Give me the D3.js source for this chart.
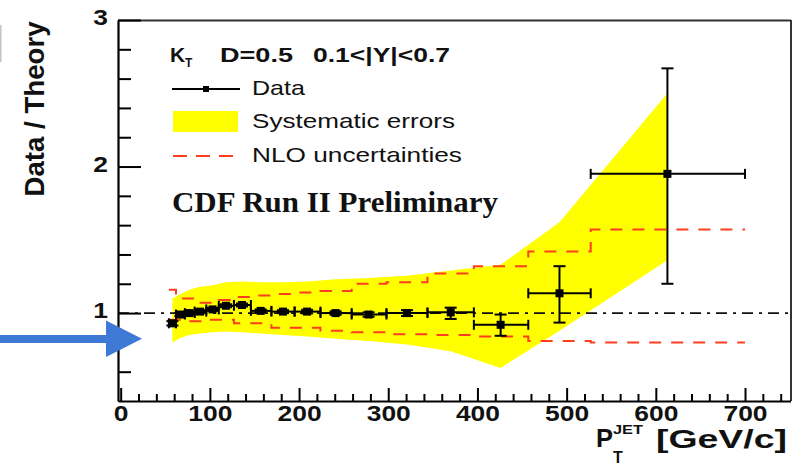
<!DOCTYPE html>
<html lang="en">
<head>
<meta charset="utf-8">
<style>
  body { margin: 0; background: #fff; }
  svg { display: block; font-family: "Liberation Sans", Arial, sans-serif; }
</style>
<script src="https://d3js.org/d3.v7.min.js"></script>
</head>
<body>
<svg width="804" height="469"></svg>
<script>

// bins in pT (GeV/c)
var binLo = [54, 62, 72, 83, 96, 110, 127, 146, 169, 195, 224, 259, 298, 344, 396, 457, 527];
var binHi = [62, 72, 83, 96, 110, 127, 146, 169, 195, 224, 259, 298, 344, 396, 457, 527, 700];
var ptCenter = [58, 67, 77, 89, 103, 118, 136, 157, 182, 209, 241, 278, 321, 370, 426, 492, 613];

// data / theory with stat errors
var ratio  = [0.93, 0.99, 1.00, 1.01, 1.025, 1.05, 1.055, 1.015, 1.01, 1.01, 1.00, 0.99, 1.00, 1.005, 0.92, 1.135, 1.95];
var statUp = [0.015, 0.01, 0.01, 0.01, 0.01, 0.01, 0.01, 0.01, 0.01, 0.012, 0.012, 0.015, 0.02, 0.032, 0.07, 0.185, 0.72];
var statDn = [0.015, 0.01, 0.01, 0.01, 0.01, 0.01, 0.01, 0.01, 0.01, 0.012, 0.012, 0.015, 0.02, 0.045, 0.075, 0.20, 0.75];

// systematic band (yellow)
var sysUp = [1.10, 1.13, 1.16, 1.18, 1.19, 1.21, 1.215, 1.21, 1.21, 1.215, 1.23, 1.24, 1.255, 1.29, 1.33, 1.62, 2.50];
var sysDn = [0.80, 0.83, 0.85, 0.86, 0.87, 0.875, 0.87, 0.86, 0.85, 0.84, 0.825, 0.81, 0.785, 0.74, 0.625, 0.88, 1.36];

// NLO uncertainties (red dashed steps)
var nloUp = [1.16, 1.10, 1.10, 1.07, 1.07, 1.09, 1.11, 1.12, 1.13, 1.14, 1.15, 1.20, 1.21, 1.27, 1.32, 1.42, 1.57];
var nloDn = [0.955, 0.955, 0.945, 0.945, 0.955, 0.955, 0.93, 0.93, 0.90, 0.90, 0.88, 0.87, 0.855, 0.85, 0.84, 0.81, 0.80];

var xMajor = [0, 100, 200, 300, 400, 500, 600, 700];
var yMajor = [1, 2, 3];

var svg = d3.select("svg");

var x = d3.scaleLinear().domain([-3, 751]).range([118, 790.5]);
var y = d3.scaleLinear().domain([0.4, 3]).range([401, 20]);

var red = "#ff3d1f";

// stretch text horizontally like the original
function stretch(sel, f) {
  sel.each(function() {
    var w = this.getComputedTextLength();
    d3.select(this).attr("textLength", w * f).attr("lengthAdjust", "spacingAndGlyphs");
  });
}

// systematic band
var band = d3.area()
  .x(function(d) { return x(d.pt); })
  .y0(function(d) { return y(d.lo); })
  .y1(function(d) { return y(d.hi); });

var bandData = ptCenter.map(function(p, i) { return {pt: p, lo: sysDn[i], hi: sysUp[i]}; });
svg.append("path").attr("d", band(bandData)).attr("fill", "#ffff00");

// NLO step lines
function stepPts(vals) {
  var pts = binLo.map(function(b, i) { return [x(b), y(vals[i])]; });
  pts.push([x(binHi[binHi.length - 1]), y(vals[vals.length - 1])]);
  return pts;
}
var step = d3.line().curve(d3.curveStepAfter);
[nloUp, nloDn].forEach(function(v) {
  svg.append("path")
    .attr("d", step(stepPts(v)))
    .attr("fill", "none")
    .attr("stroke", red)
    .attr("stroke-width", 2)
    .attr("stroke-dasharray", "12,10");
});

// reference line at 1
svg.append("line")
  .attr("x1", x(-3)).attr("x2", x(751))
  .attr("y1", y(1)).attr("y2", y(1))
  .attr("stroke", "#111").attr("stroke-width", 1.6)
  .attr("stroke-dasharray", "11,6,3,6");

// data points
var g = svg.append("g").attr("stroke", "#000").attr("stroke-width", 2);
ptCenter.forEach(function(p, i) {
  var cx = x(p), cy = y(ratio[i]);
  var yt = y(ratio[i] + statUp[i]), yb = y(ratio[i] - statDn[i]);
  g.append("line").attr("x1", x(binLo[i])).attr("x2", x(binHi[i])).attr("y1", cy).attr("y2", cy);
  g.append("line").attr("x1", x(binLo[i])).attr("x2", x(binLo[i])).attr("y1", cy - 5).attr("y2", cy + 5);
  g.append("line").attr("x1", x(binHi[i])).attr("x2", x(binHi[i])).attr("y1", cy - 5).attr("y2", cy + 5);
  g.append("line").attr("x1", cx).attr("x2", cx).attr("y1", yt).attr("y2", yb);
  g.append("line").attr("x1", cx - 6).attr("x2", cx + 6).attr("y1", yt).attr("y2", yt);
  g.append("line").attr("x1", cx - 6).attr("x2", cx + 6).attr("y1", yb).attr("y2", yb);
  g.append("rect").attr("x", cx - 4).attr("y", cy - 4).attr("width", 8).attr("height", 8)
    .attr("fill", "#000").attr("stroke", "none");
});

// frame
svg.append("line").attr("x1", 118).attr("x2", 791).attr("y1", 20.5).attr("y2", 20.5).attr("stroke", "#333").attr("stroke-width", 2);
svg.append("line").attr("x1", 791).attr("x2", 791).attr("y1", 20).attr("y2", 401).attr("stroke", "#333").attr("stroke-width", 2);

// x axis
var xMinor = d3.range(0, 751, 20).filter(function(v) { return v % 100 !== 0; });
svg.append("g")
  .attr("transform", "translate(0,401)")
  .call(d3.axisBottom(x).tickValues(xMinor).tickSize(-7).tickSizeOuter(0).tickFormat(""))
  .call(function(a) { a.select(".domain").remove(); a.selectAll("line").attr("stroke-width", 2); });

var xAxis = svg.append("g")
  .attr("transform", "translate(0,401)")
  .call(d3.axisBottom(x).tickValues(xMajor).tickSize(-13).tickSizeOuter(0).tickPadding(4));
xAxis.select(".domain").attr("stroke-width", 2.2);
xAxis.selectAll("line").attr("stroke-width", 2);
xAxis.selectAll("text").attr("font-size", 22).attr("font-weight", "bold").attr("fill", "#111")
  .attr("font-family", "Liberation Sans, Arial, sans-serif");
stretch(xAxis.selectAll("text"), 1.2);

// y axis
var yMinor = d3.range(0.6, 2.99, 0.2).filter(function(v) { return Math.abs(v - Math.round(v)) > 0.01; });
svg.append("g")
  .attr("transform", "translate(118,0)")
  .call(d3.axisLeft(y).tickValues(yMinor).tickSize(-13).tickSizeOuter(0).tickFormat(""))
  .call(function(a) { a.select(".domain").remove(); a.selectAll("line").attr("stroke-width", 2); });

var yAxis = svg.append("g")
  .attr("transform", "translate(118,0)")
  .call(d3.axisLeft(y).tickValues(yMajor).tickSize(-23).tickSizeOuter(0).tickPadding(10).tickFormat(d3.format("d")));
yAxis.select(".domain").attr("stroke-width", 2.2);
yAxis.selectAll("line").attr("stroke-width", 2);
yAxis.selectAll("text").attr("font-size", 22).attr("font-weight", "bold").attr("fill", "#111")
  .attr("dy", "0.22em").attr("font-family", "Liberation Sans, Arial, sans-serif");
stretch(yAxis.selectAll("text"), 1.2);

// axis titles
svg.append("text")
  .attr("transform", "translate(44,109) rotate(-90)")
  .attr("text-anchor", "middle")
  .attr("font-size", 27).attr("font-weight", "bold").attr("fill", "#111")
  .attr("textLength", 175).attr("lengthAdjust", "spacingAndGlyphs")
  .text("Data / Theory");

var xt = svg.append("g").attr("font-weight", "bold").attr("fill", "#111");
xt.append("text").attr("x", 596).attr("y", 447).attr("font-size", 25).attr("textLength", 17).attr("lengthAdjust", "spacingAndGlyphs").text("P");
xt.append("text").attr("x", 613).attr("y", 463).attr("font-size", 16).text("T");
xt.append("text").attr("x", 613).attr("y", 434).attr("font-size", 13).attr("textLength", 30).attr("lengthAdjust", "spacingAndGlyphs").text("JET");
xt.append("text").attr("x", 656).attr("y", 448).attr("font-size", 25).attr("textLength", 131).attr("lengthAdjust", "spacingAndGlyphs").text("[GeV/c]");

// legend
var lg = svg.append("g").attr("fill", "#111");
lg.append("text").attr("x", 170).attr("y", 62).attr("font-size", 21).attr("font-weight", "bold").text("K");
lg.append("text").attr("x", 185).attr("y", 67).attr("font-size", 12).attr("font-weight", "bold").text("T");
lg.append("text").attr("x", 220).attr("y", 62).attr("font-size", 21).attr("font-weight", "bold")
  .attr("textLength", 73).attr("lengthAdjust", "spacingAndGlyphs").text("D=0.5");
lg.append("text").attr("x", 313).attr("y", 62).attr("font-size", 21).attr("font-weight", "bold")
  .attr("textLength", 137).attr("lengthAdjust", "spacingAndGlyphs").text("0.1<|Y|<0.7");

lg.append("line").attr("x1", 172).attr("x2", 240).attr("y1", 89).attr("y2", 89).attr("stroke", "#000").attr("stroke-width", 2);
lg.append("rect").attr("x", 203).attr("y", 86).attr("width", 6).attr("height", 6).attr("fill", "#000");
lg.append("text").attr("x", 252).attr("y", 95).attr("font-size", 21).attr("textLength", 53).attr("lengthAdjust", "spacingAndGlyphs").text("Data");

lg.append("rect").attr("x", 173).attr("y", 111).attr("width", 65).attr("height", 21).attr("fill", "#ffff00");
lg.append("text").attr("x", 252).attr("y", 128).attr("font-size", 21).attr("textLength", 203).attr("lengthAdjust", "spacingAndGlyphs").text("Systematic errors");

lg.append("line").attr("x1", 173).attr("x2", 234).attr("y1", 156).attr("y2", 156)
  .attr("stroke", red).attr("stroke-width", 2).attr("stroke-dasharray", "14,9");
lg.append("text").attr("x", 252).attr("y", 162).attr("font-size", 21).attr("textLength", 210).attr("lengthAdjust", "spacingAndGlyphs").text("NLO uncertainties");

lg.append("text").attr("x", 172).attr("y", 212)
  .attr("font-family", "Liberation Serif, Times New Roman, serif")
  .attr("font-size", 29).attr("font-weight", "bold")
  .attr("textLength", 326).attr("lengthAdjust", "spacingAndGlyphs")
  .text("CDF Run II Preliminary");

// crop artifact at the left edge
svg.append("rect").attr("x", 0).attr("y", 25).attr("width", 1.5).attr("height", 37).attr("fill", "#c4c4c4");

// blue arrow
var blue = "#3f79d6";
svg.append("rect").attr("x", 0).attr("y", 335).attr("width", 108).attr("height", 8).attr("fill", blue);
svg.append("path").attr("d", "M106,320.5 L142,338.8 L106,357 Z").attr("fill", blue);

</script>
</body>
</html>
